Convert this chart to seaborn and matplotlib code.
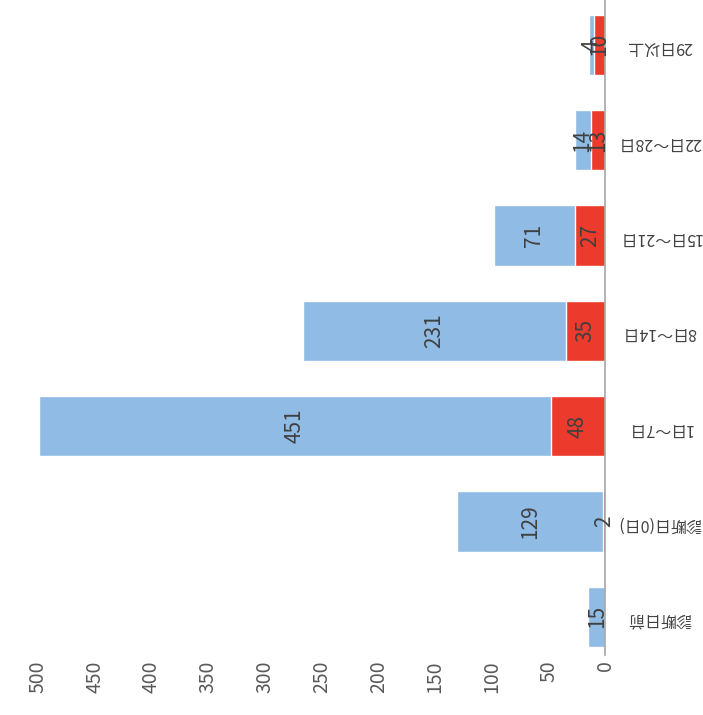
import matplotlib
matplotlib.use('Agg')
import matplotlib.pyplot as plt
import seaborn as sns
import pandas as pd

categories = ['診断日前', '診断日(0日)', '1日～7日', '8日～14日', '15日～21日', '22日～28日', '29日以上']
red_values = [0, 2, 48, 35, 27, 13, 10]
blue_values = [15, 129, 451, 231, 71, 14, 4]
x_ticks = [0, 50, 100, 150, 200, 250, 300, 350, 400, 450, 500]

blue_color = '#8fbbe4'
red_color = '#ec3a2c'
text_color = '#404040'

sns.set_style('white')
plt.rcParams['font.family'] = ['Noto Sans CJK JP', 'DejaVu Sans']

data = pd.DataFrame({'category': categories, 'red': red_values, 'blue': blue_values})
data['total'] = data['red'] + data['blue']

fig = plt.figure(figsize=(7.03, 7.15), dpi=100)
ax = fig.add_axes([0.054, 0.084, 0.807, 0.916])

sns.barplot(data=data, x='total', y='category', order=categories, color=blue_color,
            width=0.63, saturation=1, ax=ax)
sns.barplot(data=data, x='red', y='category', order=categories, color=red_color,
            width=0.63, saturation=1, ax=ax)

# labels in the middle of each segment
for i, row in data.iterrows():
    if row['red'] > 0:
        ax.text(row['red'] / 2, i, str(row['red']), rotation=90, ha='center', va='center',
                fontsize=15, color=text_color)
    if row['blue'] > 0:
        ax.text(row['red'] + row['blue'] / 2, i, str(row['blue']), rotation=90, ha='center',
                va='center', fontsize=15, color=text_color)

ax.set_xlim(500, 0)
ax.set_ylim(-0.40, 6.47)
ax.set_xticks(x_ticks)
ax.set_xticklabels([str(t) for t in x_ticks], rotation=90, fontsize=14, color='#595959')
ax.yaxis.tick_right()
ax.set_yticks(range(len(categories)))
ax.set_yticklabels(categories, rotation=180, fontsize=11.5, color=text_color, ha='center')
ax.tick_params(axis='both', length=0)
ax.tick_params(axis='x', pad=4)
ax.tick_params(axis='y', pad=39)
ax.set_xlabel('')
ax.set_ylabel('')

for side in ['top', 'left', 'bottom']:
    ax.spines[side].set_visible(False)
ax.spines['right'].set_color('#a6a6a6')
ax.spines['right'].set_linewidth(1.2)

fig.savefig('out.png', dpi=100)
